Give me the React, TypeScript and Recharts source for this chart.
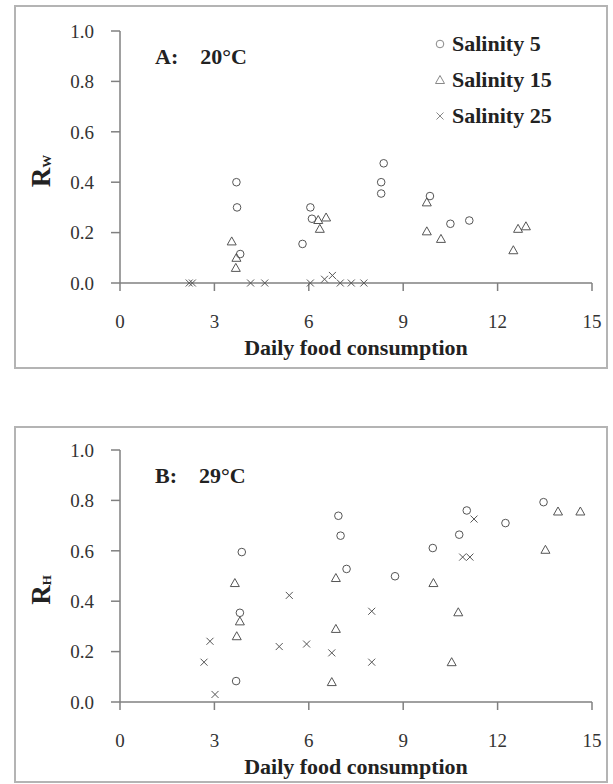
import React from "react";
import {
  Legend,
  Scatter,
  ScatterChart,
  XAxis,
  YAxis,
} from "recharts";

const xTicks = [0, 3, 6, 9, 12, 15];
const yTicks = [0, 0.2, 0.4, 0.6, 0.8, 1.0];
const seriesNames = ["Salinity 5", "Salinity 15", "Salinity 25"];

// panel A, 20 C
const a5: [number, number][] = [
  [3.7, 0.4], [3.72, 0.3], [3.82, 0.115], [5.8, 0.155], [6.05, 0.3],
  [6.1, 0.255], [8.3, 0.4], [8.3, 0.355], [8.38, 0.475], [9.85, 0.345],
  [10.5, 0.235], [11.1, 0.248],
];
const a15: [number, number][] = [
  [3.55, 0.165], [3.7, 0.1], [3.68, 0.06], [6.3, 0.25], [6.55, 0.26],
  [6.35, 0.215], [9.75, 0.32], [9.75, 0.205], [10.2, 0.175], [12.5, 0.13],
  [12.65, 0.215], [12.9, 0.225],
];
const a25: [number, number][] = [
  [2.2, 0], [2.3, 0], [4.15, 0], [4.6, 0], [6.05, 0], [6.5, 0.015],
  [6.75, 0.03], [7.0, 0], [7.35, 0], [7.75, 0],
];

// panel B, 29 C
const b5: [number, number][] = [
  [3.69, 0.083], [3.81, 0.354], [3.87, 0.595], [6.94, 0.739], [7.01, 0.66],
  [7.2, 0.528], [8.74, 0.499], [9.94, 0.611], [10.78, 0.664], [11.02, 0.76],
  [12.25, 0.71], [13.46, 0.793],
];
const b15: [number, number][] = [
  [3.65, 0.472], [3.71, 0.261], [3.81, 0.32], [6.73, 0.079], [6.86, 0.29],
  [6.86, 0.492], [9.96, 0.472], [10.54, 0.158], [10.75, 0.356],
  [13.52, 0.604], [13.92, 0.756], [14.63, 0.756],
];
const b25: [number, number][] = [
  [2.67, 0.158], [2.86, 0.241], [3.02, 0.03], [5.06, 0.22], [5.38, 0.423],
  [5.93, 0.23], [6.73, 0.195], [8.0, 0.36], [8.0, 0.158], [10.89, 0.575],
  [11.12, 0.575], [11.25, 0.726],
];

const FONT = '"Liberation Serif", "Times New Roman", serif';
const MARK = "#555";
const AXIS = "#808080";

const toPts = (arr: [number, number][]) => arr.map(([x, y]) => ({ x, y }));

function CircleMark(props: any) {
  const { cx, cy, color = MARK } = props;
  return <circle cx={cx} cy={cy} r={3.8} fill="none" stroke={color} strokeWidth={1} />;
}

function TriMark(props: any) {
  const { cx, cy, color = MARK } = props;
  const pts = `${cx},${cy - 4.5} ${cx - 4.5},${cy + 3.5} ${cx + 4.5},${cy + 3.5}`;
  return <polygon points={pts} fill="none" stroke={color} strokeWidth={1} />;
}

function CrossMark(props: any) {
  const { cx, cy, color = MARK } = props;
  const d = 3.5;
  return (
    <g stroke={color} strokeWidth={1}>
      <line x1={cx - d} y1={cy - d} x2={cx + d} y2={cy + d} />
      <line x1={cx - d} y1={cy + d} x2={cx + d} y2={cy - d} />
    </g>
  );
}

const marks: Record<string, (p: any) => React.ReactElement> = {
  "Salinity 5": CircleMark,
  "Salinity 15": TriMark,
  "Salinity 25": CrossMark,
};

function LegendBox({ payload }: any) {
  const names: string[] = (payload || []).map((e: any) => e.value);
  const ordered = seriesNames.filter((n) => names.includes(n));
  return (
    <div style={{ fontFamily: FONT }}>
      {ordered.map((name) => {
        const Mark = marks[name];
        return (
          <div
            key={name}
            style={{ display: "flex", alignItems: "center", height: 36 }}
          >
            <svg width={14} height={14} style={{ marginRight: 5 }}>
              <Mark cx={7} cy={7} color="#888" />
            </svg>
            <span style={{ fontWeight: "bold", fontSize: 22, color: "#222" }}>
              {name}
            </span>
          </div>
        );
      })}
    </div>
  );
}

interface PanelProps {
  top: number;
  boxTop: number;
  boxHeight: number;
  tag: string;
  temp: string;
  sub: string;
  s5: [number, number][];
  s15: [number, number][];
  s25: [number, number][];
  legend?: boolean;
}

function Panel({ top, boxTop, boxHeight, tag, temp, sub, s5, s15, s25, legend }: PanelProps) {
  return (
    <>
      <div
        style={{
          position: "absolute",
          left: 14,
          top: boxTop,
          width: 594,
          height: boxHeight,
          border: "2px solid #b4b4b4",
          boxSizing: "border-box",
        }}
      />
      <div style={{ position: "absolute", left: 0, top }}>
        <ScatterChart
          width={613}
          height={360}
          margin={{ top: 31, right: 21, bottom: 12, left: 60 }}
        >
          <XAxis
            type="number"
            dataKey="x"
            domain={[0, 15]}
            ticks={xTicks}
            interval={0}
            stroke={AXIS}
            strokeWidth={1.5}
            tickSize={8}
            tickMargin={24}
            height={65}
            tick={{ fill: "#333", fontSize: 19, fontFamily: FONT }}
            label={{
              content: ({ viewBox }: any) => (
                <text
                  x={viewBox.x + viewBox.width / 2}
                  y={viewBox.y + 64}
                  textAnchor="middle"
                  dominantBaseline="central"
                  fontFamily={FONT}
                  fontWeight="bold"
                  fontSize={22}
                  fill="#222"
                >
                  Daily food consumption
                </text>
              ),
            }}
          />
          <YAxis
            type="number"
            dataKey="y"
            domain={[0, 1]}
            ticks={yTicks}
            interval={0}
            width={60}
            stroke={AXIS}
            strokeWidth={1.5}
            tickSize={9}
            tickMargin={17}
            tickFormatter={(v: number) => v.toFixed(1)}
            tick={{ fill: "#333", fontSize: 19, fontFamily: FONT }}
            label={{
              content: ({ viewBox }: any) => {
                const cx = 41;
                const cy = viewBox.y + viewBox.height / 2 + 14;
                return (
                  <text
                    transform={`translate(${cx},${cy}) rotate(-90)`}
                    textAnchor="middle"
                    dominantBaseline="central"
                    fontFamily={FONT}
                    fontWeight="bold"
                    fill="#222"
                  >
                    <tspan fontSize={27}>R</tspan>
                    <tspan fontSize={13} dy={5}>{sub}</tspan>
                  </text>
                );
              },
            }}
          />
          {legend && (
            <Legend
              layout="vertical"
              align="center"
              verticalAlign="middle"
              content={<LegendBox />}
              wrapperStyle={{ position: "absolute", left: 433, top: 26, width: 170 }}
            />
          )}
          <Scatter
            name={seriesNames[0]}
            data={toPts(s5)}
            shape={<CircleMark />}
            isAnimationActive={false}
          />
          <Scatter
            name={seriesNames[1]}
            data={toPts(s15)}
            shape={<TriMark />}
            isAnimationActive={false}
          />
          <Scatter
            name={seriesNames[2]}
            data={toPts(s25)}
            shape={<CrossMark />}
            isAnimationActive={false}
          />
        </ScatterChart>
      </div>
      <div
        style={{
          position: "absolute",
          left: 155,
          top: top + 44,
          fontFamily: FONT,
          fontWeight: "bold",
          fontSize: 22,
          color: "#222",
          whiteSpace: "pre",
        }}
      >
        <span>{tag}</span>
        <span style={{ marginLeft: 22 }}>{temp}</span>
      </div>
    </>
  );
}

export default function App() {
  return (
    <div
      style={{
        position: "absolute",
        left: 0,
        top: 0,
        width: 613,
        height: 784,
        overflow: "hidden",
        background: "#fff",
      }}
    >
      <Panel
        top={0}
        boxTop={5}
        boxHeight={364}
        tag="A:"
        temp="20°C"
        sub="W"
        s5={a5}
        s15={a15}
        s25={a25}
        legend
      />
      <Panel
        top={419}
        boxTop={426}
        boxHeight={357}
        tag="B:"
        temp="29°C"
        sub="H"
        s5={b5}
        s15={b15}
        s25={b25}
      />
    </div>
  );
}
